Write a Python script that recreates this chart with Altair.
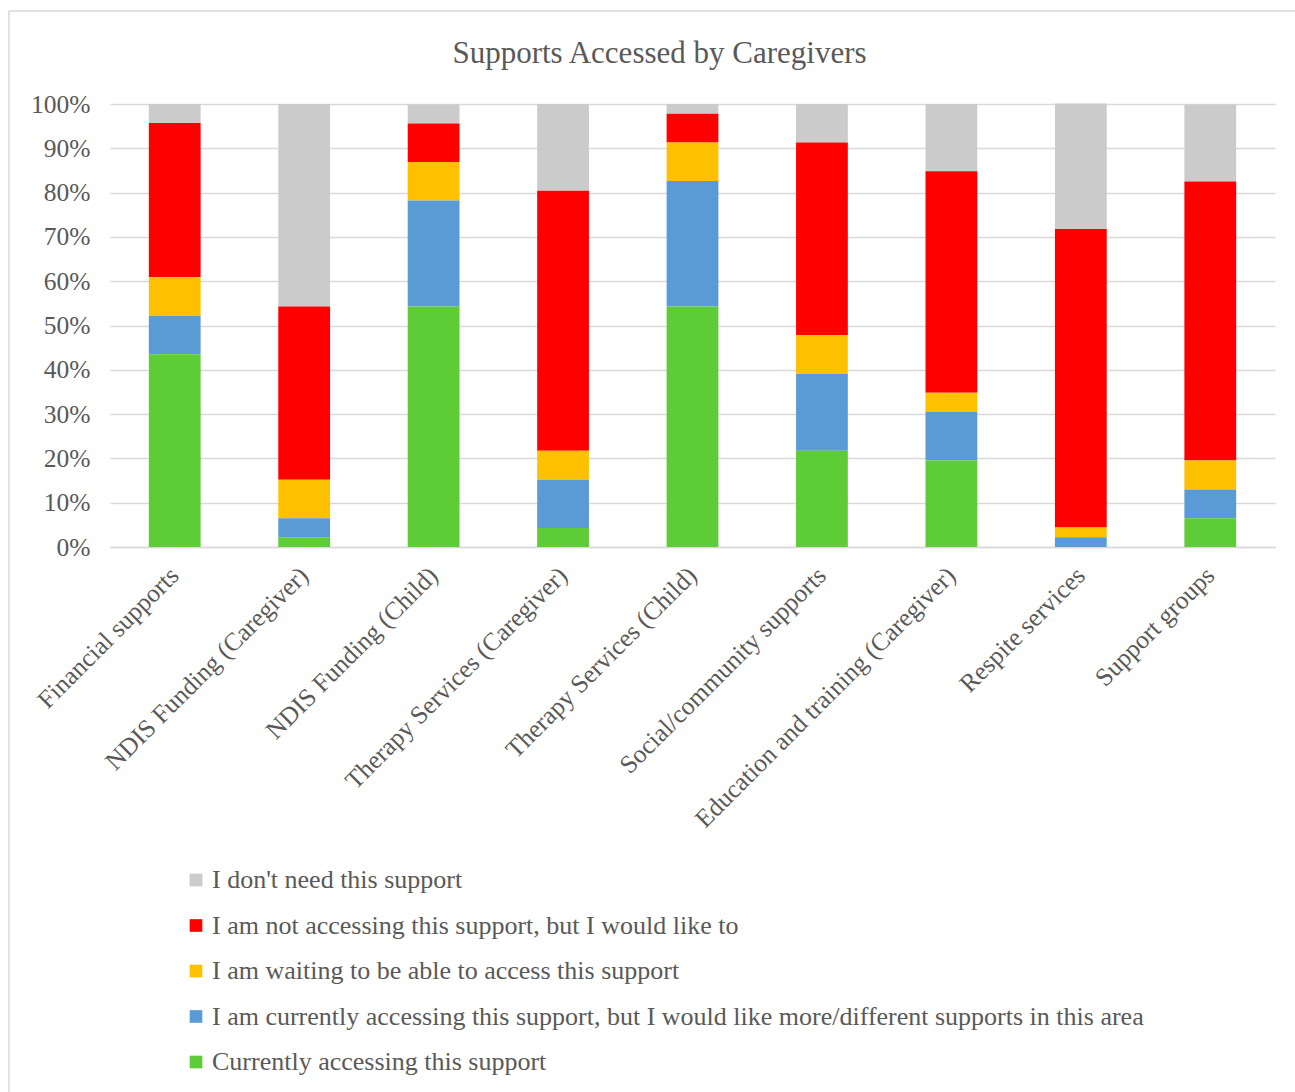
import altair as alt
import pandas as pd

categories = [
    "Financial supports",
    "NDIS Funding (Caregiver)",
    "NDIS Funding (Child)",
    "Therapy Services (Caregiver)",
    "Therapy Services (Child)",
    "Social/community supports",
    "Education and training (Caregiver)",
    "Respite services",
    "Support groups",
]

series = [
    "I don't need this support",
    "I am not accessing this support, but I would like to",
    "I am waiting to be able to access this support",
    "I am currently accessing this support, but I would like more/different supports in this area",
    "Currently accessing this support",
]
colors = ["#CCCBCB", "#FF0000", "#FFC000", "#5B9BD5", "#5ECC36"]

# percentages per category, one list per series
currently = [43.5, 2.2, 54.3, 4.3, 54.3, 21.7, 19.6, 0.0, 6.5]
more_different = [8.7, 4.3, 23.9, 10.9, 28.3, 17.4, 10.9, 2.2, 6.5]
waiting = [8.7, 8.7, 8.7, 6.5, 8.7, 8.7, 4.3, 2.2, 6.5]
would_like = [34.8, 39.1, 8.7, 58.7, 6.5, 43.5, 50.0, 67.4, 63.0]
dont_need = [4.3, 45.7, 4.3, 19.6, 2.2, 8.7, 15.2, 28.3, 17.4]

values_by_series = [dont_need, would_like, waiting, more_different, currently]

rows = []
for s_idx, (name, vals) in enumerate(zip(series, values_by_series)):
    for cat, v in zip(categories, vals):
        rows.append({"category": cat, "series": name, "value": v / 100.0,
                     "stack_order": len(series) - s_idx})
df = pd.DataFrame(rows)

FONT = "Liberation Serif"
TXT = "#595959"

bars = alt.Chart(df).mark_bar().encode(
    x=alt.X("category:N", sort=categories, title=None,
            scale=alt.Scale(paddingInner=0.6, paddingOuter=0.3),
            axis=alt.Axis(labelAngle=-45, labelAlign="right", labelBaseline="middle",
                          labelFontSize=25.5, labelFont=FONT, labelColor=TXT,
                          labelPadding=24, ticks=False, domainColor="#D9D9D9",
                          domainWidth=1.5, labelLimit=600)),
    y=alt.Y("value:Q", stack="zero", title=None,
            scale=alt.Scale(domain=[0, 1], nice=False),
            axis=alt.Axis(format=".0%", values=[i / 10 for i in range(11)],
                          labelFontSize=25.5, labelFont=FONT, labelColor=TXT,
                          labelPadding=20, ticks=False, domain=False,
                          gridColor="#D9D9D9", gridWidth=1.5)),
    color=alt.Color("series:N", sort=series,
                    scale=alt.Scale(domain=series, range=colors),
                    legend=alt.Legend(title=None, orient="none", legendX=73, legendY=763,
                                      direction="vertical", labelFont=FONT,
                                      labelFontSize=26, labelColor=TXT,
                                      symbolType="square", symbolSize=160,
                                      symbolStrokeWidth=0, rowPadding=19.5,
                                      labelOffset=3, labelLimit=1200)),
    order=alt.Order("stack_order:Q", sort="ascending"),
)

frame_df = pd.DataFrame({"k": [0]})
frame_top = alt.Chart(frame_df).mark_rule(color="#D9D9D9", strokeWidth=1.5).encode(
    x=alt.value(-101), x2=alt.value(1185), y=alt.value(-93))
frame_left = alt.Chart(frame_df).mark_rule(color="#D9D9D9", strokeWidth=1.5).encode(
    x=alt.value(-101), y=alt.value(-93), y2=alt.value(988))

chart = alt.layer(bars, frame_top, frame_left).properties(
    width=1165,
    height=443,
    background="white",
    title=alt.TitleParams("Supports Accessed by Caregivers", font=FONT, fontSize=31,
                          fontWeight="normal", color=TXT, offset=-60, dx=-33,
                          anchor="middle"),
    autosize=alt.AutoSizeParams(type="none"),
    padding={"left": 110, "top": 104, "right": 20, "bottom": 545},
).configure_view(stroke=None)

chart.save("out.html", embed_options={"renderer": "svg", "actions": False})
